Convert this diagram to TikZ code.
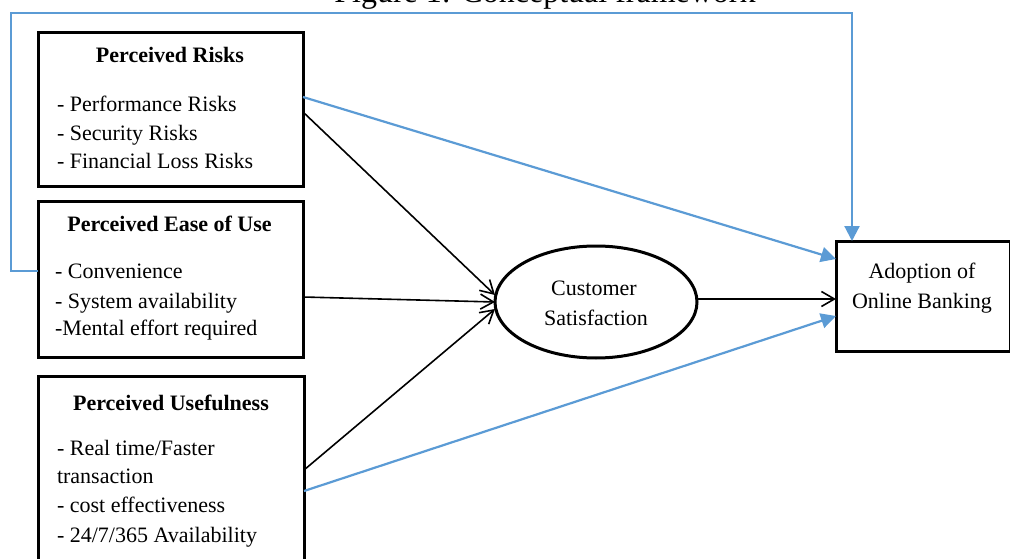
\documentclass[tikz,border=0pt]{standalone}
\usepackage{fontspec}
\setmainfont{Liberation Serif}
\usetikzlibrary{arrows.meta,shapes.geometric}
\definecolor{lineblue}{RGB}{91,155,213}
\begin{document}
\begin{tikzpicture}[x=1pt,y=-1pt,
  box/.style={draw=black,line width=3pt,inner sep=0pt,outer sep=0pt,fill=white},
  txt/.style={inner sep=0pt,outer sep=0pt,font=\fontsize{22}{26}\selectfont},
  hd/.style={txt,font=\fontsize{22}{26}\selectfont\bfseries,anchor=base},
  item/.style={txt,anchor=base west},
  blk/.style={draw=black,line width=1.6pt,-{Straight Barb[length=13pt,width=15pt,line width=1.6pt]}},
  blu/.style={draw=lineblue,line width=2.2pt,-{Triangle[length=15pt,width=15pt]}}]
\useasboundingbox (0,0) rectangle (1010,559);
\fill[white] (0,0) rectangle (1010,559);
% title (cut off at top)
\node[anchor=base,inner sep=0pt,font=\fontsize{32}{36}\selectfont] (title) at (545,3) {Figure 1: Conceptual framework};
% boxes
\node[box,minimum width=265pt,minimum height=154pt] (pr) at (170.5,110) {};
\node[box,minimum width=265pt,minimum height=155pt] (pe) at (170.5,279.5) {};
\node[box,minimum width=266pt,minimum height=199pt] (pu) at (171,475.5) {};
\node[box,ellipse,minimum width=202pt,minimum height=112pt] (cs) at (596,302) {};
\node[box,minimum width=174pt,minimum height=110pt] (ad) at (923,296) {};
% box texts
\node[hd] (prh) at (170,63) {Perceived Risks};
\node[item] (pr1) at (57,112) {- Performance Risks};
\node[item] (pr2) at (57,141) {- Security Risks};
\node[item] (pr3) at (57,168) {- Financial Loss Risks};
\node[hd] (peh) at (169.5,232) {Perceived Ease of Use};
\node[item] (pe1) at (55,278) {- Convenience};
\node[item] (pe2) at (55,308) {- System availability};
\node[item] (pe3) at (55,335) {-Mental effort required};
\node[hd] (puh) at (171,410) {Perceived Usefulness};
\node[item] (pu1) at (57,455) {- Real time/Faster};
\node[item] (pu2) at (57,483) {transaction};
\node[item] (pu3) at (57,512) {- cost effectiveness};
\node[item] (pu4) at (57,542) {- 24/7/365 Availability};
\node[txt,anchor=base] (cs1) at (594,295) {Customer};
\node[txt,anchor=base] (cs2) at (596,325) {Satisfaction};
\node[txt,anchor=base] (ad1) at (922,278) {Adoption of};
\node[txt,anchor=base] (ad2) at (922,308) {Online Banking};
% black arrows
\draw[blk] ([yshift=-2pt]pr.east) -- ([yshift=7pt]cs.west);
\draw[blk] ([yshift=-17.5pt]pe.east) -- ([yshift=0pt]cs.west);
\draw[blk] ([yshift=5.5pt]pu.east) -- ([yshift=-7pt]cs.west);
\draw[blk] ([yshift=3pt]cs.east) -- ([yshift=-3pt]ad.west);
% blue arrows
\draw[blu] ([yshift=13pt]pr.east) -- ([yshift=37pt]ad.west);
\draw[blu] ([yshift=-15.5pt]pu.east) -- ([yshift=-20pt]ad.west);
\coordinate (loopTop) at (11,13);
\draw[blu] ([yshift=8.5pt]pe.west) -| (loopTop) -| ([xshift=-71pt]ad.north);
\end{tikzpicture}
\end{document}
